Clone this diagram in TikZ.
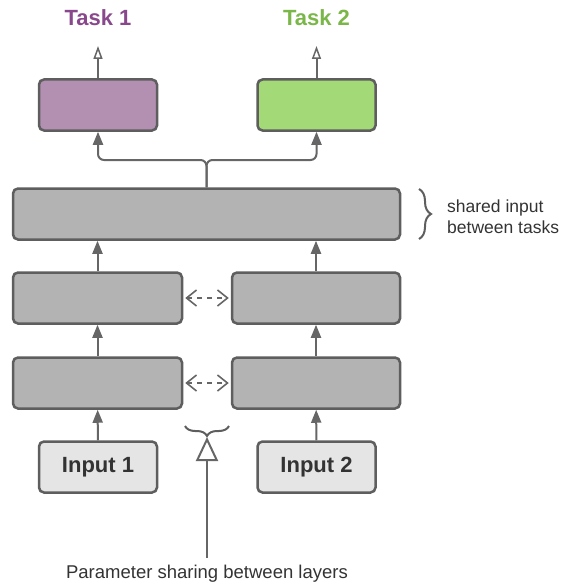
\documentclass[tikz,border=0pt]{standalone}
\usepackage{fontspec}
\setmainfont{Liberation Sans}
\usetikzlibrary{arrows.meta,decorations.pathreplacing}
\definecolor{edge}{HTML}{5E5E5E}
\definecolor{wire}{HTML}{666666}
\definecolor{layerfill}{HTML}{B3B3B3}
\definecolor{inputfill}{HTML}{E5E5E5}
\definecolor{purplefill}{HTML}{B38FB2}
\definecolor{purpletext}{HTML}{8A488C}
\definecolor{greenfill}{HTML}{A3D977}
\definecolor{greentext}{HTML}{7AB648}
\definecolor{textdark}{HTML}{333333}
\tikzset{
  box/.style={draw=edge, line width=2.5pt, rounded corners=5pt, inner sep=0pt},
  layer/.style={box, fill=layerfill, minimum height=51pt},
  inbox/.style={box, fill=inputfill, minimum width=118pt, minimum height=51pt,
    font=\fontsize{22}{24}\selectfont\bfseries, text=textdark},
  taskbox/.style={box, minimum width=118pt, minimum height=51pt},
  arr/.style={draw=wire, line width=2pt, -{Triangle[length=13pt,width=10pt]}},
  outarr/.style={draw=wire, line width=2pt, -{Triangle[open,length=13pt,width=9pt,line width=1.5pt]}},
  linkarr/.style={draw=wire, line width=1.6pt, dash pattern=on 5pt off 5pt,
    {Straight Barb[length=10pt,width=16pt,line width=1.6pt]}-{Straight Barb[length=10pt,width=16pt,line width=1.6pt]},
    shorten <=2pt, shorten >=2pt},
  bracestyle/.style={draw=edge, line width=2pt, decorate},
  label/.style={font=\fontsize{22}{24}\selectfont\bfseries},
}
\begin{document}
\begin{tikzpicture}[x=1pt,y=-1pt]
\useasboundingbox (0,0) rectangle (565,583);

% task heads
\node[taskbox, fill=purplefill] (t1) at (98,105) {};
\node[taskbox, fill=greenfill] (t2) at (316.5,105) {};
\node[label, text=purpletext] (lt1) at (98,18) {Task 1};
\node[label, text=greentext] (lt2) at (316.5,18) {Task 2};
\coordinate (o1) at (98,46);
\coordinate (o2) at (316.5,46);

% shared trunk
\node[layer, minimum width=387pt] (sh) at (206.5,214) {};
\coordinate (j) at (206.5,160);

% task-specific layers
\node[layer, minimum width=169pt] (b2) at (97.5,298) {};
\node[layer, minimum width=168pt] (c2) at (316,298) {};
\node[layer, minimum width=169pt] (b1) at (97.5,383) {};
\node[layer, minimum width=168pt] (c1) at (316,383) {};

% inputs
\node[inbox] (in1) at (98,467) {Input 1};
\node[inbox] (in2) at (316.5,467) {Input 2};

% vertical flow
\draw[arr] (in1) -- (b1);
\draw[arr] (in2) -- (c1);
\draw[arr] (b1) -- (b2);
\draw[arr] (c1) -- (c2);
\draw[arr] (b2.north) -- (b2.north |- sh.south);
\draw[arr] (c2.north) -- (c2.north |- sh.south);

% split into the two heads
\draw[arr, rounded corners=6pt] (sh.north) -- (j) -| (t1.south);
\draw[arr, rounded corners=6pt] (sh.north) -- (j) -| (t2.south);
\draw[outarr] (t1.north) -- (o1);
\draw[outarr] (t2.north) -- (o2);

% parameter sharing links
\draw[linkarr] (b2) -- (c2);
\draw[linkarr] (b1) -- (c1);

% braces
\coordinate (rb1) at (419,189);
\coordinate (rb2) at (419,239);
\draw[bracestyle, decoration={brace, amplitude=12pt}] (rb1) -- (rb2);
\node[anchor=west, inner sep=0pt, align=left, text=textdark,
  font=\fontsize{17.5}{21}\selectfont] (shtext) at (447,217) {shared input\\between tasks};

\coordinate (lb1) at (229,426);
\coordinate (lb2) at (185,426);
\draw[bracestyle, decoration={brace, amplitude=10pt}] (lb1) -- (lb2);
\coordinate (ptip) at (207,437);
\node[anchor=base, inner sep=0pt, text=textdark,
  font=\fontsize{18.5}{22}\selectfont] (ptext) at (207,578) {Parameter sharing between layers};
\coordinate (pbase) at (207,558);
\draw[draw=wire, line width=2pt, -{Triangle[open,length=24pt,width=22pt,line width=2pt]}] (pbase) -- (ptip);
\end{tikzpicture}
\end{document}
